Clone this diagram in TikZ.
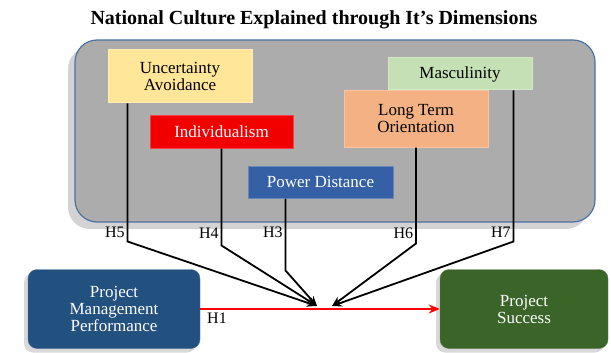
\documentclass[tikz,border=0pt]{standalone}
\usepackage{fontspec}
\setmainfont{Liberation Serif}
\usepackage{tikz}
\usetikzlibrary{positioning,arrows.meta,shadows}

\definecolor{uacol}{HTML}{FFE699}
\definecolor{mascol}{HTML}{C5E0B4}
\definecolor{ltocol}{HTML}{F4B183}
\definecolor{indcol}{HTML}{F20000}
\definecolor{pdcol}{HTML}{3560A5}
\definecolor{pmpcol}{HTML}{22507F}
\definecolor{pscol}{HTML}{3A6428}
\definecolor{framecol}{HTML}{4A74A0}

\begin{document}
\begin{tikzpicture}[
    x=1pt, y=-1pt,
    dim/.style={draw=#1!75!white, fill=#1, line width=1pt, minimum width=144pt, align=center, inner sep=2pt,
        font=\fontsize{17}{17}\selectfont},
    outcome/.style={draw=#1!80!white, fill=#1, rounded corners=9pt, minimum height=79pt, align=center, text=white,
        font=\fontsize{17}{17}\selectfont, drop shadow={shadow xshift=-4pt, shadow yshift=-4pt, opacity=0.3}},
    link/.style={line width=1.8pt, -{Stealth[length=10pt, width=8pt]}},
    hlab/.style={left, inner sep=2pt, font=\fontsize{16}{16}\selectfont}
]
\useasboundingbox (0,0) rectangle (611,353);

% Title and frame
\node (title) at (314,20) {\fontsize{20}{20}\selectfont\bfseries National Culture Explained through It's Dimensions};
\node (culture) [draw=framecol, line width=1.2pt, fill=gray!65, rounded corners=22pt, minimum width=520pt, minimum height=182pt,
    drop shadow={shadow xshift=-7pt, shadow yshift=-7pt, opacity=0.35}] at (335,131) {};

% Dimensions
\node (ua) [dim=uacol, minimum height=53pt] at (180,76.5) {Uncertainty \\ Avoidance};
\node (masc) [dim=mascol, minimum height=32pt] at (460,74) {Masculinity};
\node (lto) [dim=ltocol, minimum height=56pt] at (416,119) {Long Term \\ Orientation};
\node (ind) [dim=indcol, minimum height=32pt, minimum width=143pt, text=white] at (221.5,132) {Individualism};
\node (pd) [dim=pdcol, minimum height=32pt, minimum width=145pt, text=white] at (320.5,182) {Power Distance};

% Outcomes
\node (pmp) [outcome=pmpcol, minimum width=172pt] at (114,309) {Project \\ Management \\ Performance};
\node (ps) [outcome=pscol, minimum width=168pt] at (524,309) {Project \\ Success};

\coordinate (tipL) at (317,306);
\coordinate (tipR) at (332,306);

% Arrows with labels
\draw[link] ([xshift=20pt]ua.south west) -- ++(0,138) node[hlab, pos=0.93] {H5} -- (tipL);
\draw[link] (ind.south) -- ++(0,97) node[hlab, pos=0.87] {H4} -- (tipL);
\draw[link] ([xshift=-35pt]pd.south) -- ++(0,72) node[hlab, pos=0.47] {H3} -- (tipL);
\draw[link] (lto.south) -- ++(0,96) node[hlab, pos=0.89] {H6} -- (tipR);
\draw[link] ([xshift=-19pt]masc.south east) -- ++(0,151) node[hlab, pos=0.94] {H7} -- (tipR);

\draw[red, line width=2pt, -{Stealth[length=11pt, width=9pt]}] (pmp) -- node[pos=0.07, below, text=black, font=\fontsize{16}{16}\selectfont]
    {H1} (ps);

\end{tikzpicture}
\end{document}
